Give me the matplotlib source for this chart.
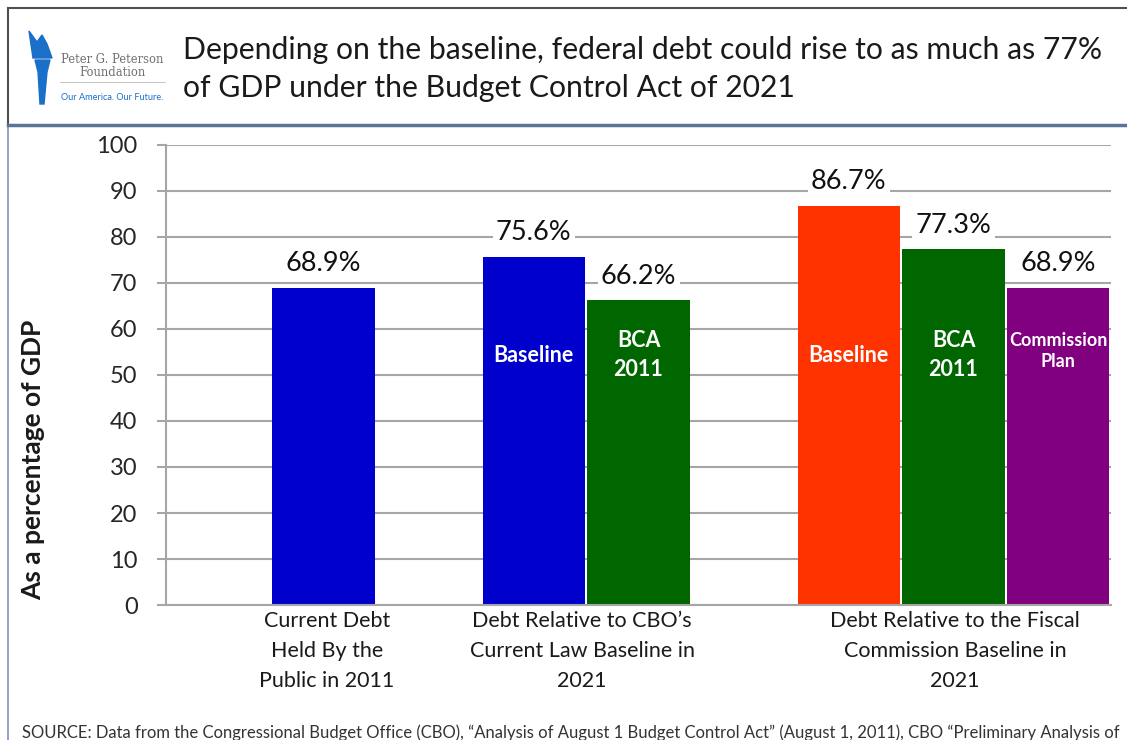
import matplotlib.pyplot as plt
from matplotlib.patches import Polygon
from matplotlib.lines import Line2D

# data
group_labels = ["Current Debt\nHeld By the\nPublic in 2011",
                "Debt Relative to CBO\u2019s\nCurrent Law Baseline in\n2021",
                "Debt Relative to the Fiscal\nCommission Baseline in\n2021"]
bar_group = [0, 1, 1, 2, 2, 2]
bar_slot = [0, -1, 0, -1, 0, 1]
bar_values = [68.9, 75.6, 66.2, 86.7, 77.3, 68.9]
bar_inner = ["", "Baseline", "BCA\n2011", "Baseline", "BCA\n2011", "Commission\nPlan"]
bar_colors = ["#0000CC", "#0000CC", "#006600", "#FF3300", "#006600", "#800080"]
yticks = [0, 10, 20, 30, 40, 50, 60, 70, 80, 90, 100]

plt.rcParams['font.family'] = ['Lato', 'DejaVu Sans']

fig = plt.figure(figsize=(11.27, 7.40), dpi=100)
W, H = 1127, 740

def fx(px):
    return px / W

def fy(py):
    return 1 - py / H

# frame around the title and the left edge
fig.add_artist(Line2D([fx(8), fx(1127)], [fy(8), fy(8)], color="#505050", lw=1.5))
fig.add_artist(Line2D([fx(8), fx(8)], [fy(8), fy(125)], color="#505050", lw=1.5))
fig.add_artist(Line2D([fx(8), fx(8)], [fy(125), 0], color="#7A96C0", lw=1.2))
fig.add_artist(Line2D([fx(8), fx(1127)], [fy(125), fy(125)], color="#5B7394", lw=2.5))

# simple torch logo
torch = Polygon([[fx(35), fy(60)], [fx(50), fy(60)], [fx(47), fy(72)], [fx(44), fy(104)],
                 [fx(40), fy(104)], [fx(38), fy(72)]], closed=True, color="#1A6FC9",
                transform=fig.transFigure)
flame = Polygon([[fx(29), fy(31)], [fx(37), fy(42)], [fx(42), fy(35)], [fx(47), fy(44)],
                 [fx(52), fy(58)], [fx(33), fy(58)]], closed=True, color="#1A6FC9",
                transform=fig.transFigure)
fig.add_artist(torch)
fig.add_artist(flame)
fig.text(fx(112), fy(66), "Peter G. Peterson\nFoundation", ha="center", va="center",
         fontsize=8.3, family="DejaVu Serif", color="#707070", linespacing=0.95)
fig.add_artist(Line2D([fx(60), fx(165)], [fy(82), fy(82)], color="#BBBBBB", lw=0.6))
fig.text(fx(112), fy(97), "Our America. Our Future.", ha="center", va="center",
         fontsize=6.6, color="#1A6FC9")

fig.text(fx(183), fy(69), "Depending on the baseline, federal debt could rise to as much as 77%\n"
         "of GDP under the Budget Control Act of 2021", ha="left", va="center",
         fontsize=21.7, color="#1A1A1A", linespacing=1.45)

ax = fig.add_axes([fx(166), fy(605), fx(1111) - fx(166), fy(145) - fy(605)])

bw = 0.324
off = 0.333
for g, s, v, lab, c in zip(bar_group, bar_slot, bar_values, bar_inner, bar_colors):
    x = g + s * off
    ax.bar(x, v, width=bw, color=c, zorder=2)
    ax.text(x, v + 5.3, f"{v:.1f}%", ha="center", va="center", fontsize=19.5,
            color="#111111", zorder=4,
            bbox=dict(boxstyle="square,pad=0.12", fc="white", ec="none"))
    if lab:
        small = lab.startswith("Commission")
        ax.text(x, 54.3 if not small else 55.3, lab, ha="center", va="center",
                fontsize=13 if small else 15.5, fontweight="bold", color="white",
                linespacing=1.5 if not small else 1.3, zorder=3)

ax.set_xlim(-0.5, 2.5)
ax.set_ylim(0, 100)
ax.set_yticks(yticks)
ax.yaxis.grid(True, color="#A6A6A6", lw=1.5, zorder=0)
ax.set_axisbelow(True)
ax.tick_params(axis="y", length=6.5, width=1.5, color="#A6A6A6", labelsize=17,
               labelcolor="#262626", pad=14)
ax.tick_params(axis="x", length=0, labelbottom=False)
for sp in ["top", "right"]:
    ax.spines[sp].set_visible(False)
ax.spines["left"].set_color("#A6A6A6")
ax.spines["left"].set_linewidth(1.5)
ax.spines["bottom"].set_color("#A6A6A6")
ax.spines["bottom"].set_linewidth(1.5)

ax.set_ylabel("As a percentage of GDP", fontsize=19, fontweight="bold", color="#1A1A1A")
ax.yaxis.set_label_coords(-0.128, 0.315)

label_x = [327, 582, 955]
for lx, lab in zip(label_x, group_labels):
    fig.text(fx(lx), fy(611), lab, ha="center", va="top", fontsize=15.5, color="#1A1A1A",
             linespacing=1.62)

fig.text(fx(22), fy(733), "SOURCE: Data from the Congressional Budget Office (CBO), \u201cAnalysis of August 1 "
         "Budget Control Act\u201d (August 1, 2011), CBO \u201cPreliminary Analysis of",
         ha="left", va="center", fontsize=12, color="#333333")

fig.savefig("out.png", dpi=100)
